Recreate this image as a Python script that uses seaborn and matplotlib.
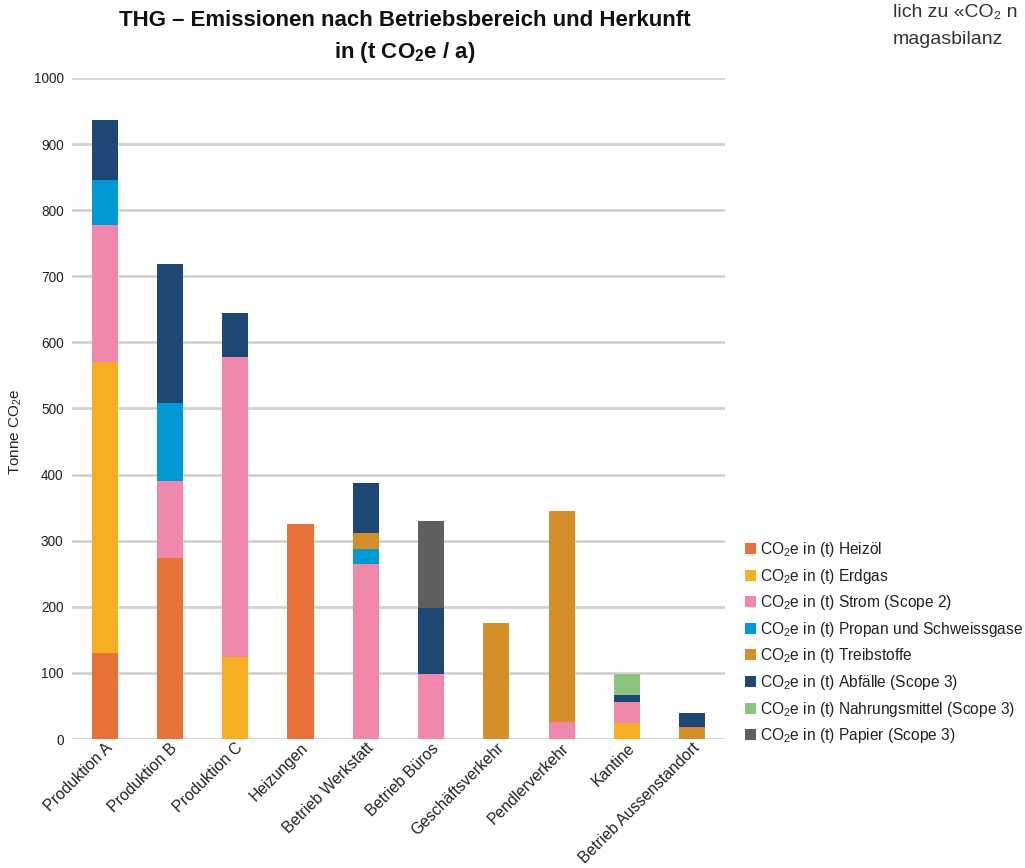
import numpy as np
import pandas as pd
import matplotlib
matplotlib.use("Agg")
import matplotlib.pyplot as plt
from matplotlib.patches import Patch
import seaborn as sns

# Betriebsbereiche (x-Achse)
bereiche = ["Produktion A", "Produktion B", "Produktion C", "Heizungen",
            "Betrieb Werkstatt", "Betrieb Büros", "Geschäftsverkehr",
            "Pendlerverkehr", "Kantine", "Betrieb Aussenstandort"]

# Emissionen je Herkunft in t CO2e/a
heizoel         = [130, 274,   0, 325,   0,   0,   0,   0,  0,  0]
erdgas          = [440,   0, 124,   0,   0,   0,   0,   0, 24,  0]
strom           = [208, 117, 454,   0, 265,  98,   0,  25, 32,  0]
propan          = [ 68, 117,   0,   0,  22,   0,   0,   0,  0,  0]
treibstoffe     = [  0,   0,   0,   0,  24,   0, 175, 320,  0, 18]
abfaelle        = [ 90, 211,  67,   0,  76, 100,   0,   0, 10, 22]
nahrungsmittel  = [  0,   0,   0,   0,   0,   0,   0,   0, 33,  0]
papier          = [  0,   0,   0,   0,   0, 132,   0,   0,  0,  0]

herkunft = ["Heizöl", "Erdgas", "Strom (Scope 2)", "Propan und Schweissgase",
            "Treibstoffe", "Abfälle (Scope 3)", "Nahrungsmittel (Scope 3)",
            "Papier (Scope 3)"]
werte = [heizoel, erdgas, strom, propan, treibstoffe, abfaelle,
         nahrungsmittel, papier]
farben = ["#E8713A", "#F6AF22", "#F088AD", "#0098D5", "#D48F2A",
          "#1E4873", "#8DC47F", "#5E5F61"]

yticks = list(range(0, 1001, 100))

sns.set_theme(style="white")
plt.rcParams["font.family"] = ["Liberation Sans", "DejaVu Sans"]
plt.rcParams["mathtext.fontset"] = "custom"
plt.rcParams["mathtext.rm"] = "Liberation Sans"
plt.rcParams["mathtext.it"] = "Liberation Sans"
plt.rcParams["mathtext.bf"] = "Liberation Sans:bold"

fig = plt.figure(figsize=(10.25, 8.68), dpi=100)
ax = fig.add_axes([0.0702, 0.1486, 0.6370, 0.7616])

# gridlines behind the bars
for t in yticks:
    ax.axhline(t, color="#D3CFCD", lw=1.9, zorder=0)

bottom = np.zeros(len(bereiche))
for name, vals, col in zip(herkunft, werte, farben):
    df = pd.DataFrame({"Bereich": bereiche, "Wert": vals})
    sns.barplot(data=df, x="Bereich", y="Wert", order=bereiche, color=col,
                width=0.4, bottom=bottom.copy(), saturation=1, ax=ax,
                errorbar=None, linewidth=0, zorder=2)
    bottom += np.array(vals, dtype=float)

ax.set_xlim(-0.5, len(bereiche) - 0.5)
ax.set_ylim(0, 1000)
ax.set_yticks(yticks)
ax.set_yticklabels([str(t) for t in yticks], fontsize=9.8, color="#222222")
ax.tick_params(axis="y", length=0, pad=6)
ax.tick_params(axis="x", length=0, pad=1)
ax.set_xticks(range(len(bereiche)))
ax.set_xticklabels(bereiche, rotation=45, ha="right", rotation_mode="anchor",
                   fontsize=11.3, color="#222222")
ax.set_xlabel("")
ax.set_ylabel("")
for s in ax.spines.values():
    s.set_visible(False)

fig.text(0.0156, 0.5023, "Tonne CO$_2$e", rotation=90, ha="center",
         va="center", fontsize=11, color="#222222")

fig.text(0.395, 0.976, "THG – Emissionen nach Betriebsbereich und Herkunft",
         ha="center", va="center", fontsize=16, fontweight="bold",
         color="#111111")
fig.text(0.395, 0.940, r"in (t CO$_\mathbf{2}$e / a)",
         ha="center", va="center", fontsize=16, fontweight="bold",
         color="#111111")

fig.text(0.871, 1 - 17 / 868, "lich zu «CO₂ n", ha="left", va="baseline",
         fontsize=14, color="#333333")
fig.text(0.871, 1 - 44 / 868, "magasbilanz", ha="left", va="baseline",
         fontsize=14, color="#333333")

handles = [Patch(facecolor=c, edgecolor="none") for c in farben]
labels = ["CO$_2$e in (t) " + h for h in herkunft]
fig.legend(handles, labels, loc="upper left", bbox_to_anchor=(0.727, 0.378),
           frameon=False, fontsize=11.2, handlelength=0.72, handleheight=0.72,
           handletextpad=0.22, labelspacing=0.49, borderpad=0,
           borderaxespad=0, labelcolor="#222222")

fig.savefig("out.png", dpi=100)
